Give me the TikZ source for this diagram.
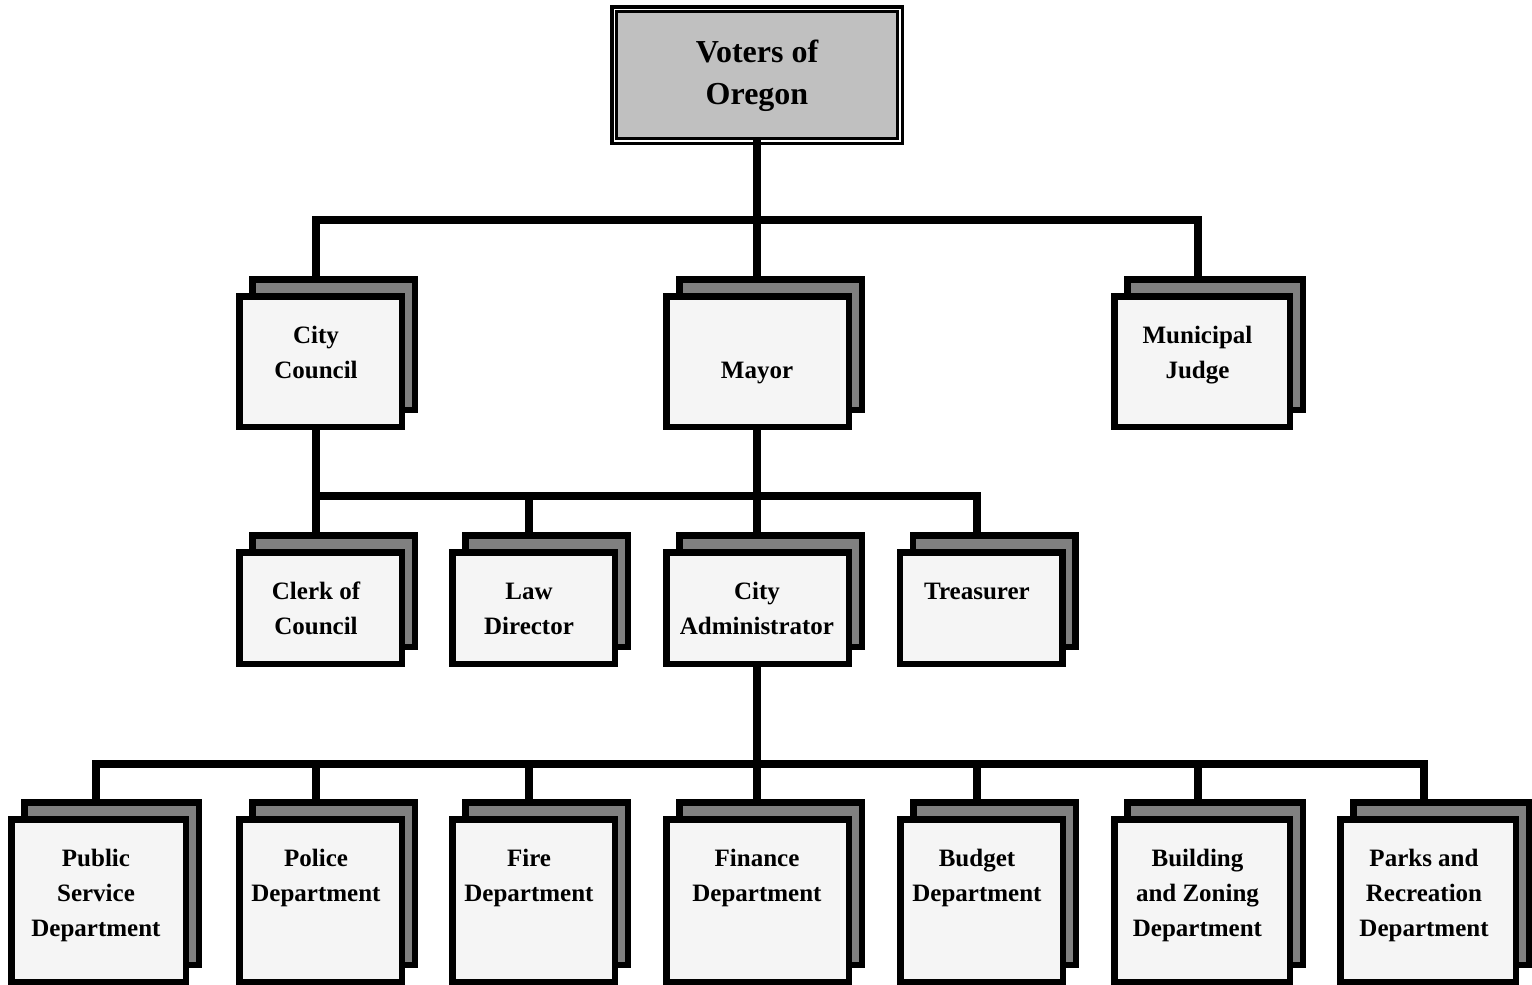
\documentclass[tikz,border=0pt]{standalone}
\usepackage{fontspec}
\setmainfont{Liberation Serif}
\usetikzlibrary{backgrounds}
\definecolor{frontfill}{HTML}{F5F5F5}
\definecolor{backfill}{HTML}{808080}
\definecolor{topfill}{HTML}{C0C0C0}
\tikzset{
  boxline/.style={line width=6.5pt, draw=black, line join=miter},
  frontbox/.style={boxline, fill=frontfill},
  backbox/.style={boxline, fill=backfill},
  unittext/.style={anchor=north, inner sep=0pt, align=center,
    font=\bfseries\fontsize{25}{35}\selectfont},
  conn/.style={line width=8pt, draw=black, line join=miter, line cap=butt},
}
% #1 name, #2 text x, #3 x1, #4 x2, #5 ytop, #6 ybot, #7 text
\newcommand\orgunit[7]{%
  \draw[backbox] ({#3+13+3.25},{#5-17+3.25}) rectangle ({#4+13-3.25},{#6-17-3.25});
  \draw[frontbox] ({#3+3.25},{#5+3.25}) rectangle ({#4-3.25},{#6-3.25});
  \node[unittext] (#1) at (#2,{#5+25.5}) {#7};
}
\begin{document}
\begin{tikzpicture}[x=1pt,y=-1pt]
\useasboundingbox (0,0) rectangle (1532,985);
% top box
\draw[line width=3.5pt] (611.75,6.75) rectangle (902.25,143.25);
\draw[line width=3pt, fill=topfill] (616.5,11.5) rectangle (897.5,138.5);
\node[anchor=north, inner sep=0pt, align=center, font=\bfseries\fontsize{32}{42}\selectfont]
  (voters) at (757,33) {\strut Voters of\\Oregon};
% row 1
\orgunit{cc}{316}{236}{405}{293}{430}{\strut City\\Council}
\orgunit{mayor}{757}{663}{852}{293}{430}{\strut\\Mayor}
\orgunit{judge}{1197.5}{1111}{1293}{293}{430}{\strut Municipal\\Judge}
% row 2
\orgunit{clerk}{316}{236}{405}{549}{667}{\strut Clerk of\\Council}
\orgunit{law}{529}{449}{618}{549}{667}{\strut Law\\Director}
\orgunit{admin}{757}{663}{852}{549}{667}{\strut City\\Administrator}
\orgunit{treas}{977}{896.5}{1065.5}{549}{667}{\strut Treasurer}
% row 3
\orgunit{ps}{96}{8}{189}{816}{985}{\strut Public\\Service\\Department}
\orgunit{police}{316}{236}{405}{816}{985}{\strut Police\\Department}
\orgunit{fire}{529}{449}{618}{816}{985}{\strut Fire\\Department}
\orgunit{finance}{757}{663}{852}{816}{985}{\strut Finance\\Department}
\orgunit{budget}{977}{897}{1066}{816}{985}{\strut Budget\\Department}
\orgunit{building}{1197.5}{1111}{1293}{816}{985}{\strut Building\\and Zoning\\Department}
\orgunit{parks}{1424}{1337}{1519}{816}{985}{\strut Parks and\\Recreation\\Department}
% buses
\coordinate (b1) at (757,219.5);
\coordinate (b2) at (757,496);
\coordinate (b3) at (757,764);
\begin{pgfonlayer}{background}
  \draw[conn] (voters.center) -- (mayor.center);
  \draw[conn] (cc.center) -- (cc.center |- b1) -- (judge.center |- b1) -- (judge.center);
  \draw[conn] (mayor.center) -- (admin.center);
  \draw[conn] (clerk.center) -- (cc.center);
  \draw[conn] (cc.center |- b2) -- (treas.center |- b2) -- (treas.center);
  \draw[conn] (law.center |- b2) -- (law.center);
  \draw[conn] (admin.center) -- (finance.center);
  \draw[conn] (ps.center) -- (ps.center |- b3) -- (parks.center |- b3) -- (parks.center);
  \draw[conn] (police.center |- b3) -- (police.center);
  \draw[conn] (fire.center |- b3) -- (fire.center);
  \draw[conn] (budget.center |- b3) -- (budget.center);
  \draw[conn] (building.center |- b3) -- (building.center);
\end{pgfonlayer}
\end{tikzpicture}
\end{document}
